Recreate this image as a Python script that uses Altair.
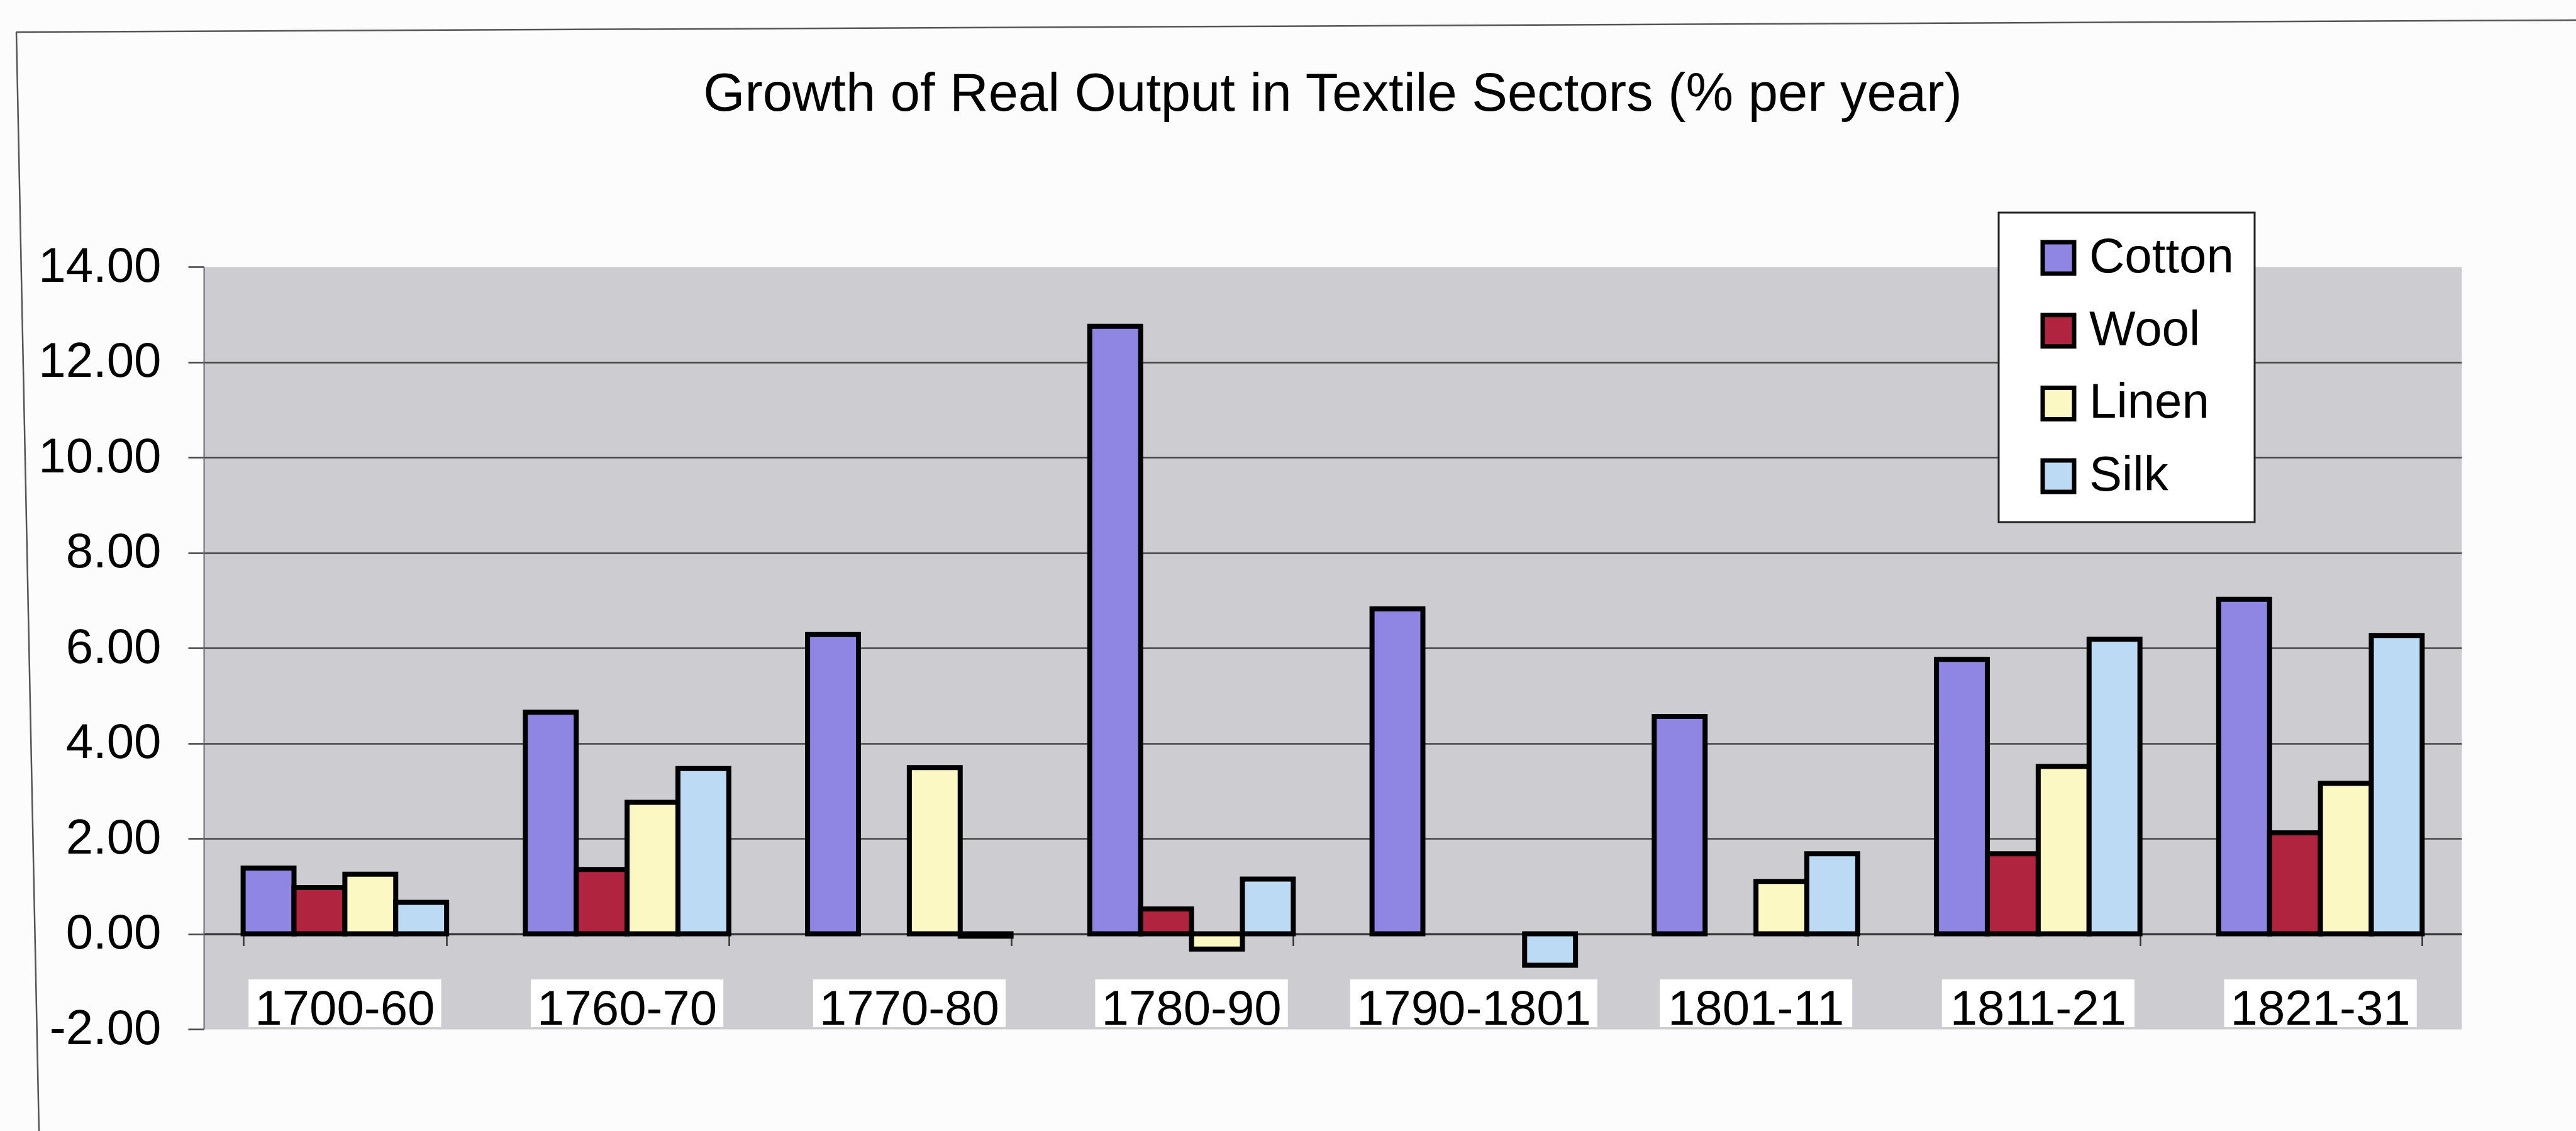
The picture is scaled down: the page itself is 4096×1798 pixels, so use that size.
import altair as alt
import pandas as pd

# ---- data ----
periods = ["1700-60", "1760-70", "1770-80", "1780-90", "1790-1801", "1801-11", "1811-21", "1821-31"]
series = ["Cotton", "Wool", "Linen", "Silk"]
cotton = [1.38, 4.65, 6.28, 12.75, 6.82, 4.56, 5.76, 7.02]
wool = [0.97, 1.35, None, 0.52, None, None, 1.68, 2.12]
linen = [1.25, 2.76, 3.49, -0.32, None, 1.10, 3.51, 3.16]
silk = [0.66, 3.47, -0.05, 1.15, -0.66, 1.68, 6.18, 6.26]
y_ticks = [-2, 0, 2, 4, 6, 8, 10, 12, 14]
title_text = "Growth of Real Output in Textile Sectors (% per year)"

colors = ["#8f86e4", "#b0243f", "#fbf8c4", "#bcdaf4"]

rows = []
for name, vals in zip(series, [cotton, wool, linen, silk]):
    for p, v in zip(periods, vals):
        if v is not None:
            rows.append({"period": p, "series": name, "value": v})
df = pd.DataFrame(rows)
labels_df = pd.DataFrame({"period": periods})

W, H = 3590, 1212
FONT = "Liberation Sans"
LABEL_FS = 78

# white label boxes (Excel-style filled label background), sized from the label text
def text_width(s):
    return sum(0.556 if c.isdigit() else 0.333 for c in s) * LABEL_FS

R = 50
box_paths = []
for p in periods:
    a = (text_width(p) / 2 + 10) / R
    h = 38 / R
    box_paths.append(f"M{-a:.3f},{-h:.3f}H{a:.3f}V{h:.3f}H{-a:.3f}Z")

x_scale = alt.Scale(domain=periods, paddingInner=0.279, paddingOuter=0.1395)
y_scale = alt.Scale(domain=[-2, 14], nice=False, zero=False)

bars = alt.Chart(df).mark_bar(stroke="black", strokeWidth=8).encode(
    x=alt.X(
        "period:N", scale=x_scale, sort=periods,
        axis=alt.Axis(title=None, labels=False, ticks=True, tickBand="extent", tickSize=19,
                      tickColor="#333333", tickWidth=2.5, domain=True, domainColor="#333333",
                      domainWidth=3, offset=-151.5, grid=False),
    ),
    xOffset=alt.XOffset("series:N", sort=series,
                        scale=alt.Scale(domain=series, paddingInner=0, paddingOuter=0)),
    y=alt.Y(
        "value:Q", scale=y_scale,
        axis=alt.Axis(
            title=None, values=y_ticks,
            labelExpr="(datum.value < 0 ? '-' : '') + format(abs(datum.value), '.2f')",
            labelFont=FONT, labelFontSize=78, labelColor="black", labelPadding=43,
            labelLimit=600,
            tickSize=25, tickColor="#444444", tickWidth=2.5,
            domainColor="#666666", domainWidth=2,
            grid=True, gridColor="#444444", gridWidth=2.5,
            gridOpacity={"condition": {"test": "datum.value == 14 || datum.value == -2", "value": 0}, "value": 1},
        ),
    ),
    color=alt.Color(
        "series:N", sort=series, scale=alt.Scale(domain=series, range=colors),
        legend=alt.Legend(
            title=None, orient="none", legendX=2854, legendY=-86, direction="vertical",
            fillColor="white", strokeColor="#222222", padding=33, rowPadding=37.7,
            labelFont=FONT, labelFontSize=78, labelColor="black",
            labelExpr="datum.label + '\u00a0\u00a0'",
            symbolOffset=23, labelOffset=10, labelLimit=600,
            symbolType="square", symbolSize=2500, symbolStrokeColor="black",
            symbolStrokeWidth=7, symbolOpacity=1,
        ),
    ),
)

boxes = alt.Chart(labels_df).mark_point(filled=True, fill="white", opacity=1, strokeWidth=0,
                                        size=(2 * R) ** 2).encode(
    x=alt.X("period:N", scale=x_scale, sort=periods),
    y=alt.datum(-1.46),
    shape=alt.Shape("period:N", scale=alt.Scale(domain=periods, range=box_paths), legend=None),
)

labels = alt.Chart(labels_df).mark_text(font=FONT, fontSize=LABEL_FS, color="black",
                                        baseline="middle").encode(
    x=alt.X("period:N", scale=x_scale, sort=periods),
    y=alt.datum(-1.6),
    text="period:N",
)

frame_data = alt.Data(values=[{"k": 0}])
top_line = alt.Chart(frame_data).mark_rule(color="#555555", strokeWidth=2.5).encode(
    x=alt.value(-298), y=alt.value(-373), x2=alt.value(3772), y2=alt.value(-392))
left_line = alt.Chart(frame_data).mark_rule(color="#555555", strokeWidth=2.5).encode(
    x=alt.value(-298), y=alt.value(-373), x2=alt.value(-262), y2=alt.value(1374))

chart = alt.layer(top_line, left_line, bars, boxes, labels).properties(
    width=W, height=H,
    autosize=alt.AutoSizeParams(type="none"),
    padding={"left": 324, "top": 424, "right": 182, "bottom": 162},
    title=alt.TitleParams(title_text, font=FONT, fontSize=85, fontWeight="normal",
                          color="black", anchor="middle", offset=-163),
).configure(
    background="#fcfcfd"
).configure_view(
    fill="#cdcdd1", stroke="transparent"
).configure_legend(
    strokeWidth=3
)

chart.save("out.html", embed_options={"renderer": "svg", "actions": False})
